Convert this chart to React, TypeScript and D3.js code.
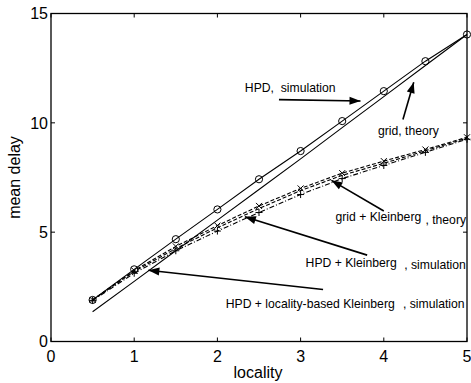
import React from 'react';
import * as d3 from 'd3';

// locality values shared by all series
const locality = [0.5, 1, 1.5, 2, 2.5, 3, 3.5, 4, 4.5, 5];

const hpdSim = [1.9, 3.3, 4.68, 6.04, 7.42, 8.71, 10.08, 11.45, 12.82, 14.04];
const gridTheory = [1.36, 2.75, 4.15, 5.55, 6.95, 8.35, 9.78, 11.2, 12.62, 14.04];
const hpdKleinbergSim = [1.9, 3.25, 4.35, 5.3, 6.2, 7.0, 7.7, 8.25, 8.78, 9.34];
const localityKleinbergSim = [1.9, 3.2, 4.25, 5.2, 6.08, 6.9, 7.6, 8.15, 8.72, 9.3];
const gridKleinbergTheory = [1.88, 3.12, 4.15, 5.05, 5.9, 6.72, 7.45, 8.05, 8.65, 9.25];

const xTicks = [0, 1, 2, 3, 4, 5];
const yTicks = [0, 5, 10, 15];

// annotations: arrows (data coords) and labels
const arrows = [
  { from: [2.74, 11.06], to: [3.72, 11.0] },
  { from: [4.23, 10.15], to: [4.36, 11.86] },
  { from: [4.0, 5.97], to: [3.37, 7.37] },
  { from: [3.8, 3.95], to: [2.33, 5.7] },
  { from: [3.27, 2.38], to: [1.17, 3.26] },
];
const labels = [
  { text: 'HPD,  simulation', x: 2.33, y: 11.62 },
  { text: 'grid, theory', x: 3.93, y: 9.66 },
  { text: 'grid + Kleinberg', x: 3.42, y: 5.7 },
  { text: ', theory', x: 4.5, y: 5.58 },
  { text: 'HPD + Kleinberg', x: 3.06, y: 3.6 },
  { text: ', simulation', x: 4.245, y: 3.49 },
  { text: 'HPD + locality-based Kleinberg', x: 2.1, y: 1.74 },
  { text: ', simulation', x: 4.23, y: 1.71 },
];

const W = 471;
const H = 383;
const plot = { left: 51, right: 467, top: 13.5, bottom: 341.5 };

export default function App() {
  const x = d3.scaleLinear().domain([0, 5]).range([plot.left, plot.right]);
  const y = d3.scaleLinear().domain([0, 15]).range([plot.bottom, plot.top]);
  const line = d3
    .line<number>()
    .x((_, i) => x(locality[i]))
    .y(d => y(d));

  const series = [
    { data: hpdSim, dash: undefined, marker: 'o' },
    { data: gridTheory, dash: undefined, marker: null },
    { data: hpdKleinbergSim, dash: '4,2', marker: 'x' },
    { data: localityKleinbergSim, dash: '4,2', marker: null },
    { data: gridKleinbergTheory, dash: '5,2,1,2', marker: '+' },
  ];

  const font = 'Liberation Sans, Arial, Helvetica, sans-serif';

  const arrowHead = (x1: number, y1: number, x2: number, y2: number) => {
    const a = Math.atan2(y2 - y1, x2 - x1);
    const len = 11;
    const w = 4;
    const bx = x2 - len * Math.cos(a);
    const by = y2 - len * Math.sin(a);
    const px = -Math.sin(a) * w;
    const py = Math.cos(a) * w;
    return `M${x2},${y2}L${bx + px},${by + py}L${bx - px},${by - py}Z`;
  };

  return (
    <svg
      width={W}
      height={H}
      style={{ position: 'fixed', left: 0, top: 0, background: '#fff' }}
    >
      {/* series */}
      {series.map((s, si) => (
        <g key={si}>
          <path d={line(s.data) || ''} fill="none" stroke="#000" strokeWidth={1.1} strokeDasharray={s.dash} />
          {s.marker &&
            s.data.map((v, i) => {
              const cx = x(locality[i]);
              const cy = y(v);
              if (s.marker === 'o')
                return <circle key={i} cx={cx} cy={cy} r={3.6} fill="none" stroke="#000" strokeWidth={1} />;
              if (s.marker === 'x')
                return (
                  <path key={i} d={`M${cx - 3},${cy - 3}L${cx + 3},${cy + 3}M${cx - 3},${cy + 3}L${cx + 3},${cy - 3}`} stroke="#000" strokeWidth={1} />
                );
              return (
                <path key={i} d={`M${cx - 3.5},${cy}L${cx + 3.5},${cy}M${cx},${cy - 3.5}L${cx},${cy + 3.5}`} stroke="#000" strokeWidth={1} />
              );
            })}
        </g>
      ))}

      {/* box and ticks */}
      <rect
        x={plot.left}
        y={plot.top}
        width={plot.right - plot.left}
        height={plot.bottom - plot.top}
        fill="none"
        stroke="#000"
        strokeWidth={1.3}
      />
      {xTicks.map(t => (
        <g key={'x' + t}>
          <line x1={x(t)} x2={x(t)} y1={plot.bottom} y2={plot.bottom - 4} stroke="#000" />
          <line x1={x(t)} x2={x(t)} y1={plot.top} y2={plot.top + 4} stroke="#000" />
          <text x={x(t)} y={plot.bottom + 20} fontSize={16} fontFamily={font} textAnchor="middle">
            {t}
          </text>
        </g>
      ))}
      {yTicks.map(t => (
        <g key={'y' + t}>
          <line x1={plot.left} x2={plot.left + 4} y1={y(t)} y2={y(t)} stroke="#000" />
          <line x1={plot.right} x2={plot.right - 4} y1={y(t)} y2={y(t)} stroke="#000" />
          <text x={plot.left - 3} y={y(t)} dy="0.36em" fontSize={16} fontFamily={font} textAnchor="end">
            {t}
          </text>
        </g>
      ))}

      {/* axis labels */}
      <text x={258} y={378} fontSize={16} fontFamily={font} textAnchor="middle">
        locality
      </text>
      <text
        transform={`translate(20,${(plot.top + plot.bottom) / 2}) rotate(-90)`}
        fontSize={16}
        fontFamily={font}
        textAnchor="middle"
      >
        mean delay
      </text>

      {/* annotations */}
      {arrows.map((a, i) => {
        const x1 = x(a.from[0]);
        const y1 = y(a.from[1]);
        const x2 = x(a.to[0]);
        const y2 = y(a.to[1]);
        return (
          <g key={'a' + i}>
            <line x1={x1} y1={y1} x2={x2} y2={y2} stroke="#000" strokeWidth={1.6} />
            <path d={arrowHead(x1, y1, x2, y2)} fill="#000" />
          </g>
        );
      })}
      {labels.map((l, i) => (
        <text
          key={'l' + i}
          x={x(l.x)}
          y={y(l.y)}
          dy="0.35em"
          fontSize={12.2}
          fontFamily={font}
          style={{ whiteSpace: 'pre' }}
        >
          {l.text}
        </text>
      ))}
    </svg>
  );
}
